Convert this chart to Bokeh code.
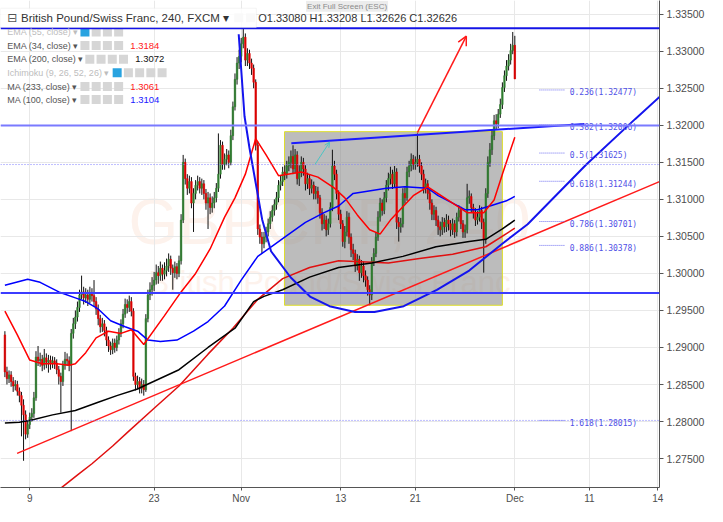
from bokeh.plotting import figure
from bokeh.models import (Range1d, FixedTicker, Label, Arrow, OpenHead, NumeralTickFormatter,
                          ColumnDataSource, Span, BoxAnnotation)
from bokeh.core.properties import value
from bokeh.embed import file_html
from bokeh.resources import INLINE

# ------------------------------------------------------------------ data
# GBP/CHF 4h candles (bar index 0 = first 4h bar shown, 6 bars per trading day)
first_open = 1.2917
closes = [
    1.2867, 1.2858, 1.2863, 1.2854, 1.2848, 1.2850,
    1.2841, 1.2835, 1.2822, 1.2809, 1.2783, 1.2796,
    1.2806, 1.2811, 1.2832, 1.2887, 1.2882, 1.2884,
    1.2876, 1.2886, 1.2880, 1.2883, 1.2878, 1.2882,
    1.2879, 1.2870, 1.2861, 1.2854, 1.2876, 1.2884,
    1.2882, 1.2876, 1.2919, 1.2932, 1.2941, 1.2954,
    1.2971, 1.2975, 1.2967, 1.2971, 1.2965, 1.2974,
    1.2970, 1.2962, 1.2952, 1.2939, 1.2928, 1.2932,
    1.2923, 1.2910, 1.2902, 1.2897, 1.2906, 1.2900,
    1.2910, 1.2919, 1.2932, 1.2945, 1.2958, 1.2954,
    1.2962, 1.2949, 1.2861, 1.2850, 1.2854, 1.2845,
    1.2850, 1.2843, 1.2939, 1.2971, 1.2978, 1.2984,
    1.2991, 1.3001, 1.2997, 1.3007, 1.2999, 1.3004,
    1.3010, 1.3019, 1.3007, 1.3001, 1.3009, 1.3000,
    1.3017, 1.3072, 1.3150, 1.3128, 1.3115, 1.3124,
    1.3095, 1.3108, 1.3119, 1.3124, 1.3115, 1.3121,
    1.3108, 1.3095, 1.3102, 1.3089, 1.3095, 1.3102,
    1.3115, 1.3134, 1.3173, 1.3147, 1.3154, 1.3160,
    1.3150, 1.3186, 1.3225, 1.3262, 1.3284, 1.3293,
    1.3310, 1.3319, 1.3288, 1.3297, 1.3284, 1.3277,
    1.3258, 1.3173, 1.3060, 1.3049, 1.3040, 1.3049,
    1.3056, 1.3067, 1.3076, 1.3085, 1.3093, 1.3102,
    1.3119, 1.3124, 1.3137, 1.3134, 1.3145, 1.3150,
    1.3158, 1.3141, 1.3160, 1.3128, 1.3137, 1.3150,
    1.3141, 1.3121, 1.3128, 1.3115, 1.3119, 1.3108,
    1.3111, 1.3102, 1.3082, 1.3067, 1.3072, 1.3059,
    1.3067, 1.3089, 1.3145, 1.3134, 1.3108, 1.3080,
    1.3067, 1.3043, 1.3056, 1.3076, 1.3049, 1.3032,
    1.3027, 1.3010, 1.3019, 1.3001, 1.3010, 1.2997,
    1.2991, 1.2978, 1.2971, 1.3017, 1.3027, 1.3049,
    1.3076, 1.3095, 1.3085, 1.3102, 1.3119, 1.3128,
    1.3134, 1.3121, 1.3137, 1.3069, 1.3063, 1.3067,
    1.3108, 1.3102, 1.3137, 1.3145, 1.3154, 1.3147,
    1.3150, 1.3154, 1.3145, 1.3134, 1.3115, 1.3121,
    1.3108, 1.3095, 1.3080, 1.3085, 1.3072, 1.3063,
    1.3059, 1.3069, 1.3063, 1.3072, 1.3067, 1.3059,
    1.3067, 1.3056, 1.3076, 1.3085, 1.3067, 1.3056,
    1.3059, 1.3102, 1.3104, 1.3089, 1.3082, 1.3072,
    1.3076, 1.3085, 1.3069, 1.3046, 1.3108, 1.3150,
    1.3167, 1.3186, 1.3206, 1.3202, 1.3215, 1.3228,
    1.3251, 1.3267, 1.3280, 1.3288, 1.3301, 1.3308,
    1.32626,
]
highs = [
    1.2922, 1.2874, 1.2869, 1.2868, 1.2860, 1.2856,
    1.2855, 1.2846, 1.2840, 1.2830, 1.2815, 1.2802,
    1.2812, 1.2818, 1.2840, 1.2895, 1.2902, 1.2893,
    1.2890, 1.2898, 1.2892, 1.2890, 1.2889, 1.2888,
    1.2887, 1.2884, 1.2875, 1.2866, 1.2882, 1.2894,
    1.2892, 1.2888, 1.2925, 1.2940, 1.2950, 1.2962,
    1.2978, 1.2997, 1.2982, 1.2980, 1.2978, 1.2982,
    1.2980, 1.2991, 1.2968, 1.2958, 1.2944, 1.2940,
    1.2937, 1.2928, 1.2915, 1.2908, 1.2912, 1.2912,
    1.2916, 1.2926, 1.2938, 1.2952, 1.2966, 1.2965,
    1.2970, 1.2968, 1.2953, 1.2866, 1.2862, 1.2860,
    1.2858, 1.2856, 1.2945, 1.2978, 1.2988, 1.2995,
    1.3002, 1.3012, 1.3010, 1.3016, 1.3012, 1.3015,
    1.3020, 1.3027, 1.3024, 1.3012, 1.3016, 1.3014,
    1.3024, 1.3080, 1.3160, 1.3155, 1.3134, 1.3132,
    1.3130, 1.3115, 1.3126, 1.3132, 1.3130, 1.3128,
    1.3126, 1.3114, 1.3110, 1.3108, 1.3104, 1.3110,
    1.3122, 1.3189, 1.3180, 1.3178, 1.3162, 1.3168,
    1.3166, 1.3194, 1.3232, 1.3270, 1.3292, 1.3302,
    1.3318, 1.3331, 1.3324, 1.3304, 1.3302, 1.3290,
    1.3282, 1.3262, 1.3178, 1.3066, 1.3056, 1.3056,
    1.3063, 1.3074, 1.3084, 1.3092, 1.3100, 1.3110,
    1.3126, 1.3132, 1.3144, 1.3146, 1.3152, 1.3158,
    1.3166, 1.3173, 1.3168, 1.3165, 1.3146, 1.3158,
    1.3156, 1.3146, 1.3136, 1.3134, 1.3127, 1.3124,
    1.3118, 1.3117, 1.3106, 1.3088, 1.3080, 1.3078,
    1.3074, 1.3096, 1.3167, 1.3152, 1.3140, 1.3112,
    1.3086, 1.3072, 1.3064, 1.3084, 1.3082, 1.3054,
    1.3040, 1.3032, 1.3026, 1.3024, 1.3018, 1.3016,
    1.3004, 1.2996, 1.2984, 1.3022, 1.3034, 1.3056,
    1.3084, 1.3102, 1.3100, 1.3110, 1.3126, 1.3136,
    1.3144, 1.3140, 1.3145, 1.3142, 1.3076, 1.3075,
    1.3115, 1.3116, 1.3144, 1.3152, 1.3162, 1.3160,
    1.3158, 1.3189, 1.3160, 1.3150, 1.3140, 1.3128,
    1.3126, 1.3114, 1.3100, 1.3092, 1.3090, 1.3078,
    1.3070, 1.3076, 1.3075, 1.3080, 1.3078, 1.3072,
    1.3074, 1.3072, 1.3082, 1.3092, 1.3090, 1.3072,
    1.3066, 1.3121, 1.3112, 1.3108, 1.3094, 1.3088,
    1.3084, 1.3092, 1.3090, 1.3074, 1.3115, 1.3158,
    1.3176, 1.3194, 1.3214, 1.3215, 1.3222, 1.3236,
    1.3258, 1.3274, 1.3288, 1.3296, 1.3310, 1.3326,
    1.33208,
]
lows = [
    1.2860, 1.2850, 1.2852, 1.2847, 1.2840, 1.2842,
    1.2835, 1.2826, 1.2780, 1.2747, 1.2776, 1.2778,
    1.2790, 1.2800, 1.2805, 1.2828, 1.2875, 1.2874,
    1.2868, 1.2870, 1.2872, 1.2866, 1.2870, 1.2872,
    1.2871, 1.2864, 1.2850, 1.2812, 1.2848, 1.2870,
    1.2875, 1.2868, 1.2787, 1.2912, 1.2925, 1.2935,
    1.2948, 1.2965, 1.2958, 1.2960, 1.2956, 1.2960,
    1.2962, 1.2955, 1.2944, 1.2930, 1.2920, 1.2921,
    1.2915, 1.2902, 1.2894, 1.2890, 1.2891, 1.2893,
    1.2895, 1.2904, 1.2914, 1.2926, 1.2940, 1.2946,
    1.2948, 1.2942, 1.2855, 1.2842, 1.2844, 1.2838,
    1.2838, 1.2835, 1.2840, 1.2934, 1.2964, 1.2970,
    1.2976, 1.2985, 1.2986, 1.2990, 1.2990, 1.2992,
    1.2996, 1.3002, 1.2998, 1.2978, 1.2994, 1.2992,
    1.2995, 1.3012, 1.3068, 1.3120, 1.3106, 1.3108,
    1.3088, 1.3056, 1.3100, 1.3112, 1.3108, 1.3106,
    1.3100, 1.3086, 1.3060, 1.3080, 1.3082, 1.3088,
    1.3096, 1.3110, 1.3128, 1.3140, 1.3140, 1.3146,
    1.3142, 1.3146, 1.3180, 1.3220, 1.3255, 1.3276,
    1.3285, 1.3304, 1.3280, 1.3280, 1.3276, 1.3268,
    1.3250, 1.3166, 1.3052, 1.3040, 1.3027, 1.3034,
    1.3042, 1.3050, 1.3060, 1.3070, 1.3078, 1.3086,
    1.3096, 1.3112, 1.3118, 1.3126, 1.3128, 1.3138,
    1.3142, 1.3134, 1.3135, 1.3120, 1.3118, 1.3130,
    1.3132, 1.3112, 1.3114, 1.3106, 1.3108, 1.3100,
    1.3100, 1.3094, 1.3074, 1.3058, 1.3060, 1.3050,
    1.3052, 1.3062, 1.3084, 1.3126, 1.3100, 1.3072,
    1.3060, 1.3036, 1.3034, 1.3050, 1.3040, 1.3022,
    1.3018, 1.3002, 1.3004, 1.2990, 1.2994, 1.2988,
    1.2982, 1.2970, 1.2957, 1.2964, 1.3010, 1.3022,
    1.3044, 1.3070, 1.3078, 1.3080, 1.3096, 1.3112,
    1.3120, 1.3114, 1.3116, 1.3060, 1.3043, 1.3055,
    1.3062, 1.3094, 1.3098, 1.3130, 1.3138, 1.3140,
    1.3140, 1.3144, 1.3136, 1.3126, 1.3108, 1.3108,
    1.3100, 1.3086, 1.3072, 1.3072, 1.3064, 1.3052,
    1.3050, 1.3052, 1.3055, 1.3056, 1.3058, 1.3050,
    1.3052, 1.3048, 1.3050, 1.3070, 1.3060, 1.3048,
    1.3048, 1.3054, 1.3094, 1.3082, 1.3074, 1.3064,
    1.3066, 1.3070, 1.3060, 1.3001, 1.3040, 1.3102,
    1.3144, 1.3160, 1.3180, 1.3194, 1.3196, 1.3210,
    1.3222, 1.3245, 1.3260, 1.3274, 1.3282, 1.3296,
    1.32626,
]

# x-axis: bar index of the first bar of each labelled day
day_tick_bars = [12, 72, 114, 162, 198, 246, 282, 315]
day_tick_labels = ["9", "23", "Nov", "13", "21", "Dec", "11", "14"]
price_ticks = [1.275, 1.280, 1.285, 1.290, 1.295, 1.300, 1.305,
               1.310, 1.315, 1.320, 1.325, 1.330, 1.335]

# indicator curves (bar index, value)
ema34_bar = [0, 6, 12, 18, 25, 31, 34, 39, 44, 50, 56, 61, 67, 77, 85, 92, 99, 106, 111,
             116, 121, 126, 132, 143, 151, 159, 164, 170, 176, 181, 186, 197, 204, 216,
             223, 231, 236, 240, 246]
ema34_val = [1.2949, 1.2917, 1.2883, 1.2878, 1.2878, 1.2876, 1.2878, 1.2893, 1.2913, 1.2922,
             1.2919, 1.2924, 1.2904, 1.2943, 1.2975, 1.3000, 1.3033, 1.3076, 1.3102, 1.3134,
             1.3182, 1.3160, 1.3132, 1.3137, 1.3130, 1.3115, 1.3102, 1.3079, 1.3059, 1.3053,
             1.3072, 1.3105, 1.3117, 1.3095, 1.3082, 1.3082, 1.3099, 1.3134, 1.3184]
ma100_bar = [0, 11, 17, 26, 34, 39, 45, 51, 58, 64, 69, 75, 83, 91, 98, 106, 114, 122, 130,
             135, 145, 154, 161, 168, 184, 193, 204, 209, 216, 222, 228, 234, 242, 246]
ma100_val = [1.2984, 1.2992, 1.2988, 1.2975, 1.2967, 1.2962, 1.2952, 1.2936, 1.2928, 1.2922,
             1.2910, 1.2908, 1.2910, 1.2922, 1.2935, 1.2956, 1.2991, 1.3023, 1.3039, 1.3049,
             1.3069, 1.3082, 1.3091, 1.3108, 1.3115, 1.3117, 1.3115, 1.3105, 1.3095, 1.3086,
             1.3086, 1.3091, 1.3098, 1.3104]
ema200_bar = [0, 7, 13, 23, 34, 45, 54, 64, 67, 84, 98, 111, 120, 125, 134, 147, 161, 177,
              192, 208, 224, 232, 240, 246]
ema200_val = [1.2798, 1.2799, 1.2802, 1.2809, 1.2815, 1.2826, 1.2835, 1.2844, 1.2848, 1.2870,
              1.2900, 1.2926, 1.2962, 1.2969, 1.2978, 1.2995, 1.3008, 1.3014, 1.3023, 1.3036,
              1.3043, 1.3046, 1.3060, 1.3072]
ma233_bar = [27, 36, 42, 52, 59, 72, 84, 98, 110, 122, 134, 147, 161, 185, 200, 216, 232, 246]
ma233_val = [1.2710, 1.2730, 1.2743, 1.2767, 1.2785, 1.2818, 1.2848, 1.2891, 1.2926, 1.2965,
             1.2993, 1.3008, 1.3017, 1.3014, 1.3020, 1.3026, 1.3036, 1.3061]

# drawings
support_bar = [5.9, 315.8]
support_val = [1.2757, 1.3124]
wedge_bar = [138.2, 279.6]
wedge_val = [1.31758, 1.32018]
arc_bar = [112.8, 115.6, 118.0, 121.3, 124.1, 128.4, 137.8, 147.2, 156.6, 168.9, 178.3,
           192.4, 208.4, 224.0, 239.5, 252.2, 280.5, 304.0, 315.8]
arc_val = [1.33229, 1.32122, 1.31693, 1.31172, 1.30729, 1.30299, 1.29948, 1.29688, 1.29557,
           1.29479, 1.29479, 1.29557, 1.29779, 1.30039, 1.30391, 1.30664, 1.31471, 1.32083,
           1.32383]
arrow_bar = [199.0, 222.6]
arrow_val = [1.31901, 1.33203]
small_arrow_bar = [149.6, 156.6]
small_arrow_val = [1.31471, 1.31771]
box_bar = [134.9, 240.0]
box_val = [1.29570, 1.31914]
h_levels = [1.33310, 1.31998, 1.29734]
h_colors = ["#1414e6", "#7a7aff", "#3c3cff"]
dotted_levels = [1.3147, 1.28015]
fib_ratio = ["0.236", "0.382", "0.5", "0.618", "0.786", "0.886", "1.618"]
fib_price = [1.32477, 1.32006, 1.31625, 1.31244, 1.30701, 1.30378, 1.28015]

# ------------------------------------------------------------------ geometry helpers
X_LO, X_HI = -2.12, 315.8
Y_LO, Y_HI = 1.271094, 1.336849
REF_W, REF_H = 675.0, 505.0


def px2x(px):
    return X_LO + px / REF_W * (X_HI - X_LO)


def py2y(py):
    return Y_HI - py / REF_H * (Y_HI - Y_LO)


FONT = "Liberation Sans"

p = figure(width=707, height=506, output_backend="svg", toolbar_location=None,
           x_range=Range1d(X_LO, X_HI), y_range=Range1d(Y_LO, Y_HI),
           y_axis_location="right", min_border_left=0, min_border_top=0,
           min_border_right=48, min_border_bottom=17,
           background_fill_color="white", border_fill_color="white")
p.outline_line_color = None

# axes
yax = p.yaxis[0]
yax.ticker = FixedTicker(ticks=price_ticks)
yax.formatter = NumeralTickFormatter(format="0.00000")
yax.axis_line_color = "#555555"
yax.major_tick_line_color = "#555555"
yax.major_tick_out = 4
yax.major_tick_in = 0
yax.minor_tick_line_color = None
yax.major_label_text_font = FONT
yax.major_label_text_font_size = "10.5px"
yax.major_label_text_color = "#4d4d4d"
yax.major_label_standoff = 3

xax = p.xaxis[0]
xax.ticker = FixedTicker(ticks=day_tick_bars)
xax.major_label_overrides = {b: l for b, l in zip(day_tick_bars, day_tick_labels)}
xax.axis_line_color = "#555555"
xax.major_tick_line_color = "#555555"
xax.major_tick_out = 3
xax.major_tick_in = 0
xax.minor_tick_line_color = None
xax.major_label_text_font = FONT
xax.major_label_text_font_size = "10px"
xax.major_label_text_color = "#4d4d4d"
xax.major_label_standoff = 2

p.xgrid.grid_line_color = "#e8e8e8"
p.ygrid.grid_line_color = "#e8e8e8"

# watermark (very faint)
p.add_layout(Label(x=px2x(337), y=py2y(230), text="GBPCHF, 240", text_align="center",
                   text_baseline="middle", text_font=FONT, text_font_size="64px",
                   text_color="#fdf2ec", level="image"))
p.add_layout(Label(x=px2x(337), y=py2y(292), text="British Pound/Swiss Franc",
                   text_align="center", text_baseline="middle", text_font=FONT,
                   text_font_size="31px", text_color="#fdf2ec", level="image"))

# gray rectangle drawing
p.quad(left=[box_bar[0]], right=[box_bar[1]], bottom=[box_val[0]], top=[box_val[1]],
       fill_color="#8c8c8c", fill_alpha=0.58, line_color="#dede2a", line_width=1)

# candles
n = min(len(closes), len(highs), len(lows))
opens = [first_open] + closes[:n - 1]
idx = list(range(n))
tops = [max(o, c) for o, c in zip(opens, closes[:n])]
bots = [min(o, c) for o, c in zip(opens, closes[:n])]
hi = [max(h, t) for h, t in zip(highs[:n], tops)]
lo = [min(l, b) for l, b in zip(lows[:n], bots)]
cols = ["#2f7d2f" if c >= o else "#dd0000" for o, c in zip(opens, closes[:n])]
src = ColumnDataSource(dict(x=idx, top=tops, bot=bots, hi=hi, lo=lo, col=cols))
p.segment(x0="x", y0="lo", x1="x", y1="hi", source=src, line_color="#111111", line_width=1)
p.vbar(x="x", width=0.72, top="top", bottom="bot", source=src,
       fill_color="col", line_color="col", line_width=0.6)

# indicators
p.line(ma233_bar, ma233_val, line_color="#e01010", line_width=1.5)
p.line(ema200_bar, ema200_val, line_color="#000000", line_width=1.5)
p.line(ma100_bar, ma100_val, line_color="#0000ff", line_width=1.5)
p.line(ema34_bar, ema34_val, line_color="#ff0000", line_width=1.5)

# horizontal levels
for lvl, col in zip(h_levels, h_colors):
    p.add_layout(Span(location=lvl, dimension="width", line_color=col, line_width=2))
for lvl in dotted_levels:
    p.add_layout(Span(location=lvl, dimension="width", line_color="#7d7dff",
                      line_width=1, line_dash="1 2"))

# trend drawings
p.line(support_bar, support_val, line_color="#ff1a1a", line_width=1.5)
p.line(arc_bar, arc_val, line_color="#1414ee", line_width=2)
p.line(wedge_bar, wedge_val, line_color="#1a1aff", line_width=2)
p.add_layout(Arrow(x_start=arrow_bar[0], y_start=arrow_val[0], x_end=arrow_bar[1],
                   y_end=arrow_val[1], line_color="#ff1a1a", line_width=1.5,
                   end=OpenHead(size=9, line_color="#ff1a1a", line_width=1.5)))
p.add_layout(Arrow(x_start=small_arrow_bar[0], y_start=small_arrow_val[0],
                   x_end=small_arrow_bar[1], y_end=small_arrow_val[1],
                   line_color="#4cc4c4", line_width=1,
                   end=OpenHead(size=5, line_color="#4cc4c4", line_width=1)))

# fibonacci levels
fib_x0, fib_x1, fib_tx = px2x(552), px2x(578), px2x(583)
drop = 3 * (Y_HI - Y_LO) / REF_H
p.segment(x0=[fib_x0] * len(fib_price), x1=[fib_x1] * len(fib_price), y0=fib_price,
          y1=fib_price, line_color="#6e6ef0", line_width=1, line_dash="1 1")
p.text(x=[fib_tx] * len(fib_price), y=[v - drop for v in fib_price],
       text=[f"{r}({v:.5f})" for r, v in zip(fib_ratio, fib_price)],
       text_font=value("DejaVu Sans Mono"), text_font_size="8px",
       text_color="#5050e6", text_baseline="middle")

# price tags on the right axis
last_close = closes[n - 1]
for lvl, bg in [(h_levels[0], "#0a0aff"), (last_close, "#ff0000"),
                (h_levels[1], "#0a0aff"), (h_levels[2], "#0a0aff")]:
    p.add_layout(Label(x=X_HI, y=lvl, x_offset=3, text=f"{lvl:.5f}", text_color="white",
                       text_font=FONT, text_font_size="10.5px", text_baseline="middle",
                       background_fill_color=bg, background_fill_alpha=1.0, padding=2))

# header / legend
p.add_layout(BoxAnnotation(left=px2x(0), right=px2x(262), top=py2y(8), bottom=py2y(28),
                           fill_color="white", fill_alpha=0.85, line_color="#dcdcdc",
                           line_width=1))
p.add_layout(Label(x=px2x(355), y=py2y(6), text="Exit Full Screen (ESC)", text_align="center",
                   text_baseline="middle", text_font=FONT, text_font_size="8px",
                   text_color="#8a8a8a", background_fill_color="#ececec",
                   background_fill_alpha=1.0, padding=1))
p.add_layout(Label(x=px2x(7), y=py2y(18), text="\u229f", text_font="DejaVu Sans",
                   text_font_size="12px", text_color="#555555", text_baseline="middle"))
p.add_layout(Label(x=px2x(21), y=py2y(18), text="British Pound/Swiss Franc, 240, FXCM \u25be",
                   text_font=FONT, text_font_size="11.5px", text_color="#333333",
                   text_baseline="middle"))
ohlc_txt = (f"O{opens[-1]:.5f}  H{hi[-1]:.5f}  L{lo[-1]:.5f}  C{closes[n - 1]:.5f}")
p.add_layout(Label(x=px2x(264), y=py2y(18), text=ohlc_txt, text_font=FONT,
                   text_font_size="11px", text_color="#333333", text_baseline="middle"))

legend_rows = [
    ("EMA (55, close) \u25be", "#bdbdbd", 82, 4, True, None, None),
    ("EMA (34, close) \u25be", "#555555", 82, 4, False, f"{ema34_val[-1]:.4f}", "#ff2020"),
    ("EMA (200, close) \u25be", "#555555", 87, 4, False, f"{ema200_val[-1]:.4f}", "#111111"),
    ("Ichimoku (9, 26, 52, 26) \u25be", "#bdbdbd", 115, 5, True, None, None),
    ("MA (233, close) \u25be", "#555555", 82, 4, False, f"{ma233_val[-1]:.4f}", "#ff2020"),
    ("MA (100, close) \u25be", "#555555", 82, 4, False, f"{ma100_val[-1]:.4f}", "#2020ff"),
]
row_y = [32.7, 46.7, 61.0, 75.0, 89.3, 102.7]
icon_x, icon_y, icon_c = [], [], []
for (txt, col, ix, cnt, blue, val, vcol), ry in zip(legend_rows, row_y):
    p.add_layout(Label(x=px2x(7), y=py2y(ry), text=txt, text_font=FONT,
                       text_font_size="9px", text_color=col, text_baseline="middle"))
    for k in range(cnt):
        icon_x.append(px2x(ix + 4.5 + 11.5 * k))
        icon_y.append(py2y(ry))
        icon_c.append("#29a3e0" if (blue and k == 0) else "#d6d6d6")
    if val is not None:
        p.add_layout(Label(x=px2x(ix + 11.5 * cnt + 5), y=py2y(ry), text=val, text_font=FONT,
                           text_font_size="9.5px", text_color=vcol, text_baseline="middle"))
for k in range(2):
    icon_x.append(px2x(244 + 12 * k))
    icon_y.append(py2y(18))
    icon_c.append("#d6d6d6")
p.scatter(icon_x, icon_y, marker="square", size=9, fill_color=icon_c, line_color=None)

open("out.html", "w").write(file_html(p, INLINE))
